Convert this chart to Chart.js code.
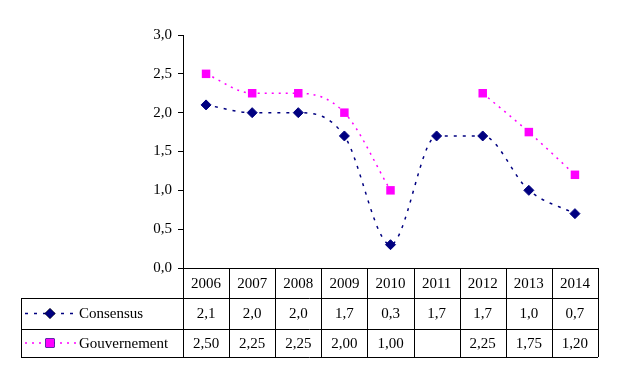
<!DOCTYPE html>
<html>
<head>
<meta charset="UTF-8">
<title>Consensus / Gouvernement</title>
<script src="https://cdn.jsdelivr.net/npm/chart.js"></script>
<style>
  html, body { margin: 0; padding: 0; background: #fff; }
  #wrap { width: 617px; height: 377px; }
</style>
</head>
<body>
<div id="wrap"><canvas id="chart" width="617" height="377"></canvas></div>
<script>
    // données
    const years = ['2006', '2007', '2008', '2009', '2010', '2011', '2012', '2013', '2014'];
    const consensus = [2.1, 2.0, 2.0, 1.7, 0.3, 1.7, 1.7, 1.0, 0.7];
    const gouvernement = [2.50, 2.25, 2.25, 2.00, 1.00, null, 2.25, 1.75, 1.20];
    const consensusLabels = ['2,1', '2,0', '2,0', '1,7', '0,3', '1,7', '1,7', '1,0', '0,7'];
    const gouvLabels = ['2,50', '2,25', '2,25', '2,00', '1,00', '', '2,25', '1,75', '1,20'];

    const NAVY = '#000080';
    const MAGENTA = '#FF00FF';
    const FONT = '15px "Liberation Serif", "Times New Roman", serif';

    // tableau de données sous le graphique
    const tablePlugin = {
        id: 'dataTable',
        afterDraw(chart) {
            const ctx = chart.ctx;
            const area = chart.chartArea;
            const xs = chart.scales.x;
            const n = years.length;
            const colW = (area.right - area.left) / n;
            const top = area.bottom;
            const r1 = top + 30, r2 = r1 + 31, r3 = r2 + 28;
            const left = 21;

            ctx.save();
            ctx.strokeStyle = '#000';
            ctx.lineWidth = 1;
            ctx.beginPath();
            // lignes horizontales
            ctx.moveTo(area.left, top + 0.5); ctx.lineTo(area.right, top + 0.5);
            [r1, r2, r3].forEach(y => { ctx.moveTo(left, y + 0.5); ctx.lineTo(area.right, y + 0.5); });
            // lignes verticales
            ctx.moveTo(left + 0.5, r1); ctx.lineTo(left + 0.5, r3);
            for (let i = 0; i <= n; i++) {
                const x = Math.round(area.left + i * colW) + 0.5;
                ctx.moveTo(x, top); ctx.lineTo(x, r3);
            }
            ctx.stroke();

            ctx.font = FONT;
            ctx.fillStyle = '#000';
            ctx.textAlign = 'center';
            ctx.textBaseline = 'middle';
            years.forEach((y, i) => {
                const cx = xs.getPixelForValue(i);
                ctx.fillText(y, cx, (top + r1) / 2 + 1);
                ctx.fillText(consensusLabels[i], cx, (r1 + r2) / 2 + 1);
                ctx.fillText(gouvLabels[i], cx, (r2 + r3) / 2 + 1);
            });

            // légende dans la première colonne
            const rows = [
                { ds: 0, y: (r1 + r2) / 2, text: 'Consensus' },
                { ds: 1, y: (r2 + r3) / 2, text: 'Gouvernement' }
            ];
            rows.forEach(r => {
                const d = chart.data.datasets[r.ds];
                ctx.save();
                ctx.strokeStyle = d.borderColor;
                ctx.lineWidth = d.borderWidth;
                ctx.setLineDash(d.borderDash);
                ctx.beginPath();
                ctx.moveTo(25, r.y); ctx.lineTo(76, r.y);
                ctx.stroke();
                ctx.restore();
                Chart.helpers.drawPoint(ctx, {
                    pointStyle: d.pointStyle, radius: d.pointRadius, borderWidth: 1
                }, 50, r.y);
                ctx.fillStyle = d.pointBackgroundColor;
                ctx.strokeStyle = d.pointBorderColor;
                ctx.fill();
                ctx.textAlign = 'left';
                ctx.fillStyle = '#000';
                ctx.fillText(r.text, 79, r.y + 1);
            });
            ctx.restore();
        }
    };

    const config = {
        type: 'line',
        data: {
            labels: years,
            datasets: [{
                label: 'Consensus',
                data: consensus,
                borderColor: NAVY,
                borderWidth: 1.5,
                borderDash: [3, 6],
                cubicInterpolationMode: 'monotone',
                pointStyle: 'rectRot',
                pointRadius: 5,
                pointBackgroundColor: NAVY,
                pointBorderColor: NAVY,
                pointBorderWidth: 1
            }, {
                label: 'Gouvernement',
                data: gouvernement,
                borderColor: MAGENTA,
                borderWidth: 1.5,
                borderDash: [2, 5],
                cubicInterpolationMode: 'monotone',
                spanGaps: false,
                pointStyle: 'rect',
                pointRadius: 6,
                pointBackgroundColor: MAGENTA,
                pointBorderColor: MAGENTA,
                pointBorderWidth: 0
            }]
        },
        options: {
            responsive: false,
            animation: false,
            layout: { padding: { left: 0, top: 35, right: 19, bottom: 109 } },
            plugins: {
                legend: { display: false },
                tooltip: { enabled: false }
            },
            scales: {
                x: {
                    display: false,
                    offset: true
                },
                y: {
                    min: 0,
                    max: 3,
                    afterFit(scale) { scale.width = 183; },
                    border: { display: true, color: '#000', width: 1 },
                    grid: {
                        drawOnChartArea: false,
                        drawTicks: true,
                        tickLength: 5,
                        color: '#000'
                    },
                    ticks: {
                        stepSize: 0.5,
                        padding: 6,
                        color: '#000',
                        font: { family: '"Liberation Serif", "Times New Roman", serif', size: 15 },
                        callback: v => v.toFixed(1).replace('.', ',')
                    }
                }
            }
        },
        plugins: [tablePlugin]
    };

    new Chart(document.getElementById('chart').getContext('2d'), config);
</script>
</body>
</html>
